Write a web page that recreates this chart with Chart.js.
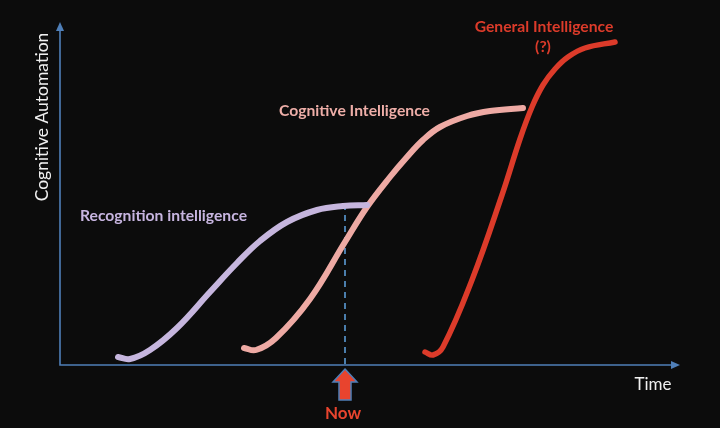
<!DOCTYPE html>
<html>
<head>
<meta charset="utf-8">
<script src="https://cdn.jsdelivr.net/npm/chart.js@4.4.1/dist/chart.umd.min.js"></script>
<style>
  html, body { margin: 0; padding: 0; background: #0c0c0c; }
  #c { display: block; }
</style>
</head>
<body>
<canvas id="c" width="720" height="428"></canvas>
<script>
// ---- data (time / automation) ----
const recognitionTime = [58, 70, 90, 117, 150, 177, 200, 227, 257, 283, 307];
const recognitionLevel = [8, 6, 15, 37, 73, 102, 124, 143, 155, 159, 160];

const cognitiveTime = [184, 196, 216, 250, 285, 307, 330, 347, 363, 380, 407, 430, 463];
const cognitiveLevel = [17, 15, 27, 66, 123, 158, 188, 208, 225, 238, 249, 254, 257];

const generalTime = [365, 373, 383, 412, 442, 460, 472, 483, 495, 508, 525, 555];
const generalLevel = [13, 10, 18, 85, 170, 226, 258, 280, 296, 308, 317, 323];

const nowTime = 285;
const nowLevel = 161;

const pts = (xs, ys) => xs.map((x, i) => ({ x: x, y: ys[i] }));

const FONT = 'Lato, "Open Sans", sans-serif';
const axisBlue = '#4f7fb8';

// axes with arrows, dashed "now" line, arrow and labels
const decor = {
    id: 'decor',
    beforeDatasetsDraw(chart) {
        const ctx = chart.ctx;
        const x = chart.scales.x, y = chart.scales.y;
        const left = x.getPixelForValue(0), bottom = y.getPixelForValue(0);
        const right = x.right, top = y.top;
        ctx.save();
        ctx.strokeStyle = axisBlue;
        ctx.fillStyle = axisBlue;
        ctx.lineWidth = 1.6;
        ctx.beginPath();
        ctx.moveTo(left, top + 6);
        ctx.lineTo(left, bottom);
        ctx.lineTo(right - 6, bottom);
        ctx.stroke();
        // arrow heads
        ctx.beginPath();
        ctx.moveTo(left, top);
        ctx.lineTo(left - 4, top + 9);
        ctx.lineTo(left + 4, top + 9);
        ctx.closePath();
        ctx.fill();
        ctx.beginPath();
        ctx.moveTo(right, bottom);
        ctx.lineTo(right - 9, bottom - 4);
        ctx.lineTo(right - 9, bottom + 4);
        ctx.closePath();
        ctx.fill();

        // dashed now line
        const nx = x.getPixelForValue(nowTime);
        ctx.strokeStyle = '#5b9bd5';
        ctx.lineWidth = 1.6;
        ctx.setLineDash([6, 5]);
        ctx.beginPath();
        ctx.moveTo(nx, y.getPixelForValue(nowLevel));
        ctx.lineTo(nx, bottom);
        ctx.stroke();
        ctx.setLineDash([]);
        ctx.restore();
    },
    afterDraw(chart) {
        const ctx = chart.ctx;
        const x = chart.scales.x, y = chart.scales.y;
        const nx = x.getPixelForValue(nowTime);
        const bottom = y.getPixelForValue(0);
        ctx.save();

        // now arrow
        ctx.beginPath();
        ctx.moveTo(nx, bottom + 4);
        ctx.lineTo(nx + 12, bottom + 17);
        ctx.lineTo(nx + 6, bottom + 17);
        ctx.lineTo(nx + 6, bottom + 35);
        ctx.lineTo(nx - 6, bottom + 35);
        ctx.lineTo(nx - 6, bottom + 17);
        ctx.lineTo(nx - 12, bottom + 17);
        ctx.closePath();
        ctx.fillStyle = '#e8442e';
        ctx.fill();
        ctx.strokeStyle = axisBlue;
        ctx.lineWidth = 1.5;
        ctx.stroke();

        ctx.textAlign = 'center';
        ctx.textBaseline = 'alphabetic';
        ctx.fillStyle = '#e8442e';
        ctx.font = 'bold 17px ' + FONT;
        ctx.fillText('Now', nx - 2, 419);

        // axis titles
        ctx.fillStyle = '#f0f0f0';
        ctx.font = '17px ' + FONT;
        ctx.fillText('Time', 653, 390);
        ctx.save();
        ctx.translate(48, 117);
        ctx.rotate(-Math.PI / 2);
        ctx.font = '17.5px ' + FONT;
        ctx.fillText('Cognitive Automation', 0, 0);
        ctx.restore();

        // curve labels
        ctx.font = 'bold 15.7px ' + FONT;
        ctx.textAlign = 'left';
        ctx.fillStyle = '#c7b5e0';
        ctx.fillText('Recognition intelligence', 80, 221);
        ctx.fillStyle = '#eeaea8';
        ctx.fillText('Cognitive Intelligence', 279, 116);
        ctx.textAlign = 'center';
        ctx.fillStyle = '#dc3b2a';
        ctx.fillText('General Intelligence', 544, 32);
        ctx.fillText('(?)', 543, 52);
        ctx.restore();
    }
};

new Chart(document.getElementById('c'), {
    type: 'line',
    data: {
        datasets: [{
            label: 'Recognition intelligence',
            data: pts(recognitionTime, recognitionLevel),
            borderColor: '#c6b6de',
            borderWidth: 6
        }, {
            label: 'Cognitive Intelligence',
            data: pts(cognitiveTime, cognitiveLevel),
            borderColor: '#eeaaa4',
            borderWidth: 6
        }, {
            label: 'General Intelligence (?)',
            data: pts(generalTime, generalLevel),
            borderColor: '#dc3b2a',
            borderWidth: 5.5
        }]
    },
    options: {
        responsive: false,
        animation: false,
        devicePixelRatio: 1,
        layout: { padding: { left: 60, right: 40, top: 22, bottom: 63 } },
        elements: {
            line: { tension: 0.4, borderCapStyle: 'round', fill: false },
            point: { radius: 0 }
        },
        plugins: { legend: { display: false }, tooltip: { enabled: false } },
        scales: {
            x: { type: 'linear', min: 0, max: 620, display: false },
            y: { type: 'linear', min: 0, max: 343, display: false }
        }
    },
    plugins: [decor]
});
</script>
</body>
</html>
